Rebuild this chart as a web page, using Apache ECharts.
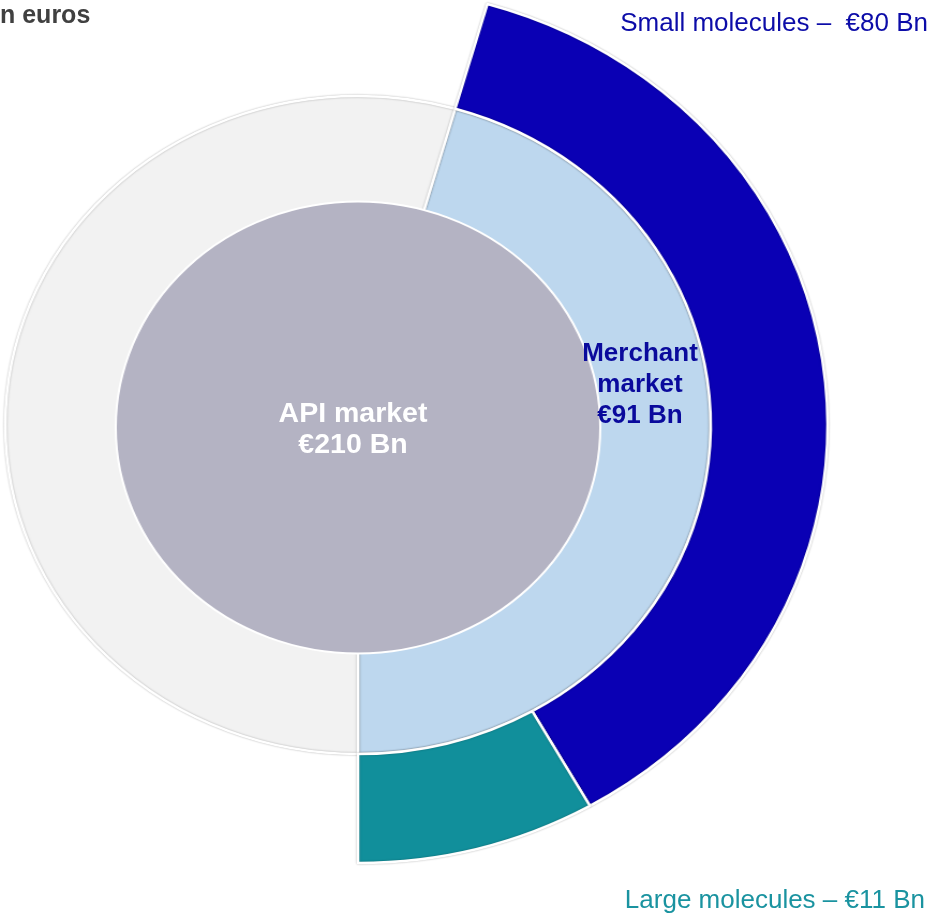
<!DOCTYPE html>
<html><head><meta charset="utf-8">
<script src="https://cdn.jsdelivr.net/npm/echarts@6/dist/echarts.min.js"></script>
<style>
html,body{margin:0;padding:0;background:#fff;overflow:hidden;width:932px;height:916px;}
#rings{position:absolute;left:0;top:0;width:932px;height:916px;transform:scaleX(1.072);transform-origin:358px 0;}
#labels{position:absolute;left:0;top:0;width:932px;height:916px;}
</style></head><body>
<div id="rings"></div><div id="labels"></div>
<script>
// Core circle
const coreNames = ['API market'];
const coreValues = [210];
// Middle ring (arc shares in degrees as drawn in the picture)
const middleNames = ['Merchant market', 'Other API market'];
const middleShares = [164, 196];
// Outer ring (arc shares in degrees as drawn; last slot is empty)
const outerNames = ['Small molecules', 'Large molecules', ''];
const outerShares = [134.4, 29.6, 196];
// Market values shown in labels (€ Bn)
const labelNames = ['API market', 'Merchant\nmarket', 'Small molecules –  ', 'Large molecules – '];
const labelValues = [210, 91, 80, 11];
const subtitleText = 'n euros';

const coreColors = ['#b4b3c3'];
const middleColors = ['#bdd7ee', '#f2f2f2'];
const outerColors = ['#0a00b4', '#118f9b', 'rgba(0,0,0,0)'];

const ringChart = echarts.init(document.getElementById('rings'));
const halo = {shadowBlur: 2, shadowColor: 'rgba(0,0,0,0.3)'};
ringChart.setOption({
  animation: false,
  series: [
    {
      type: 'pie', center: [358, 425], radius: [215, 329], startAngle: 74, silent: true,
      label: {show: false}, labelLine: {show: false},
      data: middleNames.map((n, i) => ({name: n, value: middleShares[i],
        itemStyle: Object.assign({color: middleColors[i], borderColor: '#fff', borderWidth: 2.5}, halo)}))
    },
    {
      type: 'pie', center: [358, 425], radius: [329, 438], startAngle: 74, silent: true,
      label: {show: false}, labelLine: {show: false},
      data: outerNames.map((n, i) => ({name: n, value: outerShares[i],
        itemStyle: i < 2 ? Object.assign({color: outerColors[i], borderColor: '#fff', borderWidth: 2.5}, halo)
                         : {color: outerColors[i], borderWidth: 0}}))
    },
    {
      type: 'pie', center: [358, 427.5], radius: [0, 226], silent: true,
      label: {show: false}, labelLine: {show: false},
      data: coreNames.map((n, i) => ({name: n, value: coreValues[i],
        itemStyle: {color: coreColors[i], borderColor: '#fff', borderWidth: 2}}))
    }
  ]
});

const labelChart = echarts.init(document.getElementById('labels'));
const fam = '"Liberation Sans", Arial, sans-serif';
labelChart.setOption({
  animation: false,
  graphic: [
    {type: 'text', x: 0, y: 16, style: {text: subtitleText, fill: '#404040',
      font: 'bold 25px ' + fam, textAlign: 'left', textVerticalAlign: 'middle'}},
    {type: 'text', x: 928, y: 24, style: {text: labelNames[2] + '€' + labelValues[2] + ' Bn', fill: '#0c0ca8',
      font: '26px ' + fam, textAlign: 'right', textVerticalAlign: 'middle'}},
    {type: 'text', x: 925, y: 901, style: {text: labelNames[3] + '€' + labelValues[3] + ' Bn', fill: '#1a93a0',
      font: '26px ' + fam, textAlign: 'right', textVerticalAlign: 'middle'}},
    {type: 'text', x: 640, y: 385, style: {text: labelNames[1] + '\n€' + labelValues[1] + ' Bn', fill: '#0a0a9c',
      font: 'bold 26px ' + fam, lineHeight: 31, textAlign: 'center', textVerticalAlign: 'middle'}},
    {type: 'text', x: 353, y: 430, style: {text: labelNames[0] + '\n€' + labelValues[0] + ' Bn', fill: '#ffffff',
      font: 'bold 28.5px ' + fam, lineHeight: 31, textAlign: 'center', textVerticalAlign: 'middle'}}
  ]
});
</script></body></html>
